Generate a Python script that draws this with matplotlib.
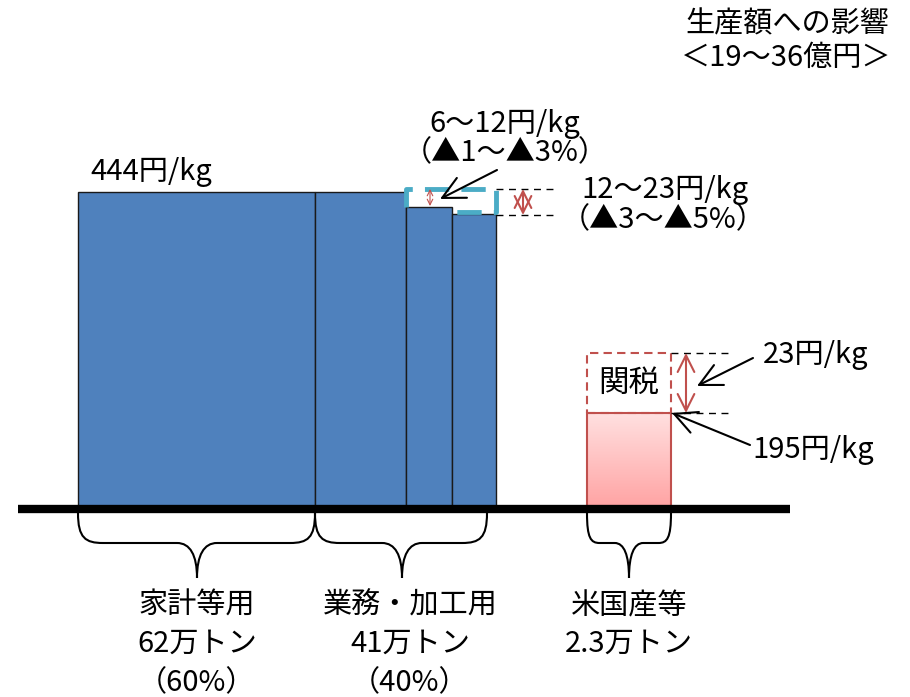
import matplotlib
matplotlib.use('Agg')
import matplotlib.pyplot as plt
import numpy as np
from matplotlib.path import Path
from matplotlib.patches import PathPatch, Rectangle

plt.rcParams['font.family'] = ['Noto Sans CJK JP', 'DejaVu Sans']

# data (schematic diagram units, baseline = 0)
segment_names = ["家計等用", "業務・加工用", "米国産等"]
segment_volumes = ["62万トン", "41万トン", "2.3万トン"]
segment_shares = ["（60%）", "（40%）", ""]

domestic_widths = [237, 91, 46, 44]      # 家計等用 | 業務・加工用 (current, -6~12, -12~23)
domestic_heights = [316, 316, 301, 294]
us_width = 84
us_height = 95        # 195円/kg
tariff_height = 60    # 23円/kg

price_label = "444円/kg"
drop_small = ["6～12円/kg", "（▲1～▲3%）"]
drop_large = ["12～23円/kg", "（▲3～▲5%）"]
us_price = "195円/kg"
tariff_label = "23円/kg"
impact = ["生産額への影響", "＜19～36億円＞"]

BLUE = "#4F81BD"
CYAN = "#4BACC6"
RED = "#C0504D"
FS = 21

fig = plt.figure(figsize=(9.1, 6.97), dpi=100)
ax = fig.add_axes([0, 0, 1, 1])
ax.set_xlim(0, 910)
ax.set_ylim(-189, 508)
ax.axis('off')

# domestic bars
x0 = 78
lefts = np.concatenate([[x0], x0 + np.cumsum(domestic_widths)[:-1]])
ax.bar(lefts, domestic_heights, width=domestic_widths, align='edge',
       color=BLUE, edgecolor='#1a1a1a', linewidth=1, zorder=2)
right_end = lefts[-1] + domestic_widths[-1]

# US bar with gradient
us_left = 587
grad = np.linspace(0, 1, 100).reshape(-1, 1)
cmap = matplotlib.colors.LinearSegmentedColormap.from_list("pk", ["#FFA3A3", "#FFE0E0"])
ax.imshow(grad, cmap=cmap, origin='lower', aspect='auto',
          extent=[us_left, us_left + us_width, 0, us_height], zorder=2)
ax.add_patch(Rectangle((us_left, 0), us_width, us_height, fill=False,
                       edgecolor=RED, linewidth=1.5, zorder=3))
ax.add_patch(Rectangle((us_left, us_height), us_width, tariff_height, fill=False,
                       edgecolor=RED, linewidth=1.5, linestyle=(0, (4, 2.5)), zorder=3))

# baseline
ax.plot([18, 790], [-1, -1], color='black', linewidth=6, solid_capstyle='butt', zorder=4)

# cyan dashed outline (previous price level)
top_old = domestic_heights[0] + 3
b2l, b3l = lefts[2], lefts[3]
ax.plot([b2l, b2l, right_end, right_end, b3l],
        [domestic_heights[2], top_old, top_old, domestic_heights[3] + 2, domestic_heights[3] + 2],
        color=CYAN, linewidth=3.5, linestyle=(0, (5, 2.5)), zorder=5)

# guide dashes
ax.plot([right_end, 555], [top_old, top_old], color='black', lw=1, ls=(0, (5, 4)), zorder=3)
ax.plot([right_end, 555], [domestic_heights[3] - 1, domestic_heights[3] - 1],
        color='black', lw=1, ls=(0, (5, 4)), zorder=3)
ax.plot([us_left + us_width, 732], [us_height + tariff_height] * 2, color='black', lw=1, ls=(0, (5, 4)), zorder=3)
ax.plot([us_left + us_width, 732], [us_height] * 2, color='black', lw=1, ls=(0, (5, 4)), zorder=3)

# red double arrows
ax.annotate("", xy=(430, domestic_heights[2] + 1), xytext=(430, top_old),
            arrowprops=dict(arrowstyle='<->,head_length=0.4,head_width=0.2', color=RED,
                            lw=0.8, shrinkA=0, shrinkB=0, mutation_scale=10), zorder=6)
ax.annotate("", xy=(523, domestic_heights[3] - 1), xytext=(523, top_old),
            arrowprops=dict(arrowstyle='<->,head_length=0.6,head_width=0.3', color=RED,
                            lw=1.5, shrinkA=0, shrinkB=0, mutation_scale=20), zorder=6)
ax.annotate("", xy=(686, us_height), xytext=(686, us_height + tariff_height),
            arrowprops=dict(arrowstyle='<->,head_length=0.6,head_width=0.3', color=RED,
                            lw=1.5, shrinkA=0, shrinkB=0, mutation_scale=20), zorder=6)

# black pointer arrows
arrow_kw = dict(arrowstyle='->,head_length=0.8,head_width=0.4', color='black',
                lw=1.5, shrinkA=0, shrinkB=0, mutation_scale=20)
ax.annotate("", xy=(440, 309), xytext=(497, 338), arrowprops=arrow_kw, zorder=6)
ax.annotate("", xy=(697, 122), xytext=(753, 150), arrowprops=arrow_kw, zorder=6)
ax.annotate("", xy=(672, us_height), xytext=(750, 63), arrowprops=arrow_kw, zorder=6)

# texts
ax.text(90, 336, price_label, fontsize=FS, ha='left', va='center')
ax.text(505, 384, drop_small[0], fontsize=FS, ha='center', va='center')
ax.text(505, 355, drop_small[1], fontsize=FS, ha='center', va='center')
ax.text(665, 318, drop_large[0], fontsize=FS, ha='center', va='center')
ax.text(663, 288, drop_large[1], fontsize=FS, ha='center', va='center')
ax.text(us_left + us_width / 2, us_height + tariff_height / 2, "関税", fontsize=FS + 1,
        ha='center', va='center', zorder=6)
ax.text(763, 153, tariff_label, fontsize=FS, ha='left', va='center')
ax.text(752, 58, us_price, fontsize=FS, ha='left', va='center')
ax.text(787, 484, impact[0], fontsize=FS, ha='center', va='center')
ax.text(786, 450, impact[1], fontsize=FS, ha='center', va='center')


def brace(xa, xb, xm, top=-5, mid=-35, tip=-70):
    r = min(25, (xb - xa) * 0.15)
    r2 = min(20, (xb - xa) * 0.17)
    verts = [(xa, top), (xa, mid + 5), (xa + r * 0.3, mid), (xa + r, mid),
             (xm - r2, mid),
             (xm - r2 * 0.35, mid), (xm, mid - 12), (xm, tip),
             (xm, mid - 12), (xm + r2 * 0.35, mid), (xm + r2, mid),
             (xb - r, mid),
             (xb - r * 0.3, mid), (xb, mid + 5), (xb, top)]
    codes = [Path.MOVETO, Path.CURVE4, Path.CURVE4, Path.CURVE4,
             Path.LINETO,
             Path.CURVE4, Path.CURVE4, Path.CURVE4,
             Path.CURVE4, Path.CURVE4, Path.CURVE4,
             Path.LINETO,
             Path.CURVE4, Path.CURVE4, Path.CURVE4]
    ax.add_patch(PathPatch(Path(verts, codes), fill=False, lw=1.5, edgecolor='black', zorder=3))


brace_spans = [(x0, lefts[1], 197), (lefts[1], 487, 402), (us_left, us_left + us_width, 629)]
label_x = [197, 410, 629]
for (xa, xb, xm), lx, name, vol, share in zip(brace_spans, label_x, segment_names,
                                              segment_volumes, segment_shares):
    brace(xa, xb, xm)
    ax.text(lx, -98, name, fontsize=FS, ha='center', va='center')
    ax.text(lx, -136, vol, fontsize=FS, ha='center', va='center')
    if share:
        ax.text(lx, -175, share, fontsize=FS, ha='center', va='center')

fig.savefig("out.png", dpi=100)
